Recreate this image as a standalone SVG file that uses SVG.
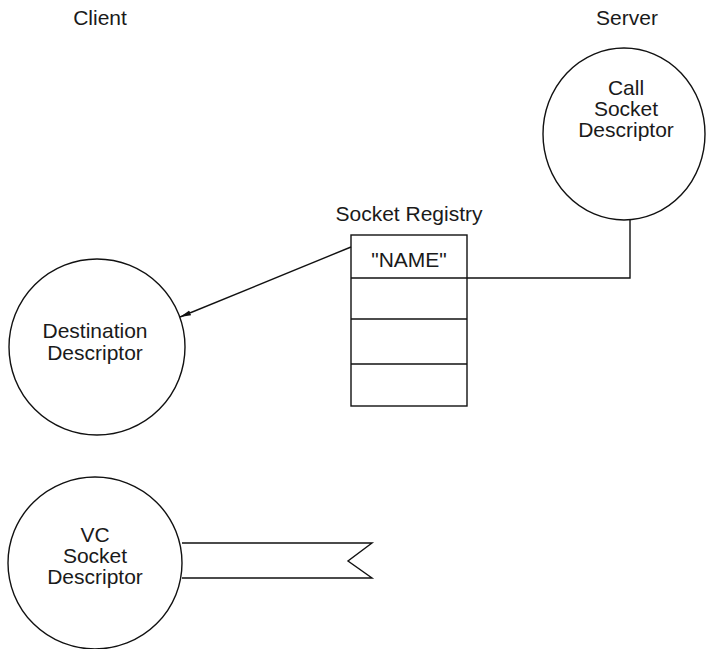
<svg xmlns="http://www.w3.org/2000/svg" width="707" height="649" viewBox="0 0 707 649">
<style>
text{font-family:"Liberation Sans",Arial,sans-serif;font-size:21px;fill:#1a1a1a;text-anchor:middle}
.s{fill:#fff;stroke:#111;stroke-width:1.4}
.c{fill:none;stroke:#111;stroke-width:1.4}
</style>
<defs>
<marker id="ah" markerWidth="12" markerHeight="8" refX="11" refY="4" orient="auto" markerUnits="userSpaceOnUse">
<path d="M0,1.5 L11,4 L0,6.5 z" fill="#111"/>
</marker>
</defs>
<text x="100" y="25">Client</text>
<text x="627" y="25">Server</text>
<g id="call-socket">
<ellipse class="s" cx="624" cy="134" rx="81" ry="86"/>
<text x="626" y="95">Call</text>
<text x="626" y="116">Socket</text>
<text x="626" y="137">Descriptor</text>
</g>
<g id="registry">
<text x="409" y="221">Socket Registry</text>
<rect class="s" x="351" y="235" width="116" height="171"/>
<line class="c" x1="351" y1="278" x2="467" y2="278"/>
<line class="c" x1="351" y1="319" x2="467" y2="319"/>
<line class="c" x1="351" y1="364" x2="467" y2="364"/>
<text x="409" y="267">"NAME"</text>
</g>
<g id="destination">
<ellipse class="s" cx="97" cy="347" rx="88" ry="88"/>
<text x="95" y="338">Destination</text>
<text x="95" y="360">Descriptor</text>
</g>
<g id="vc-socket">
<ellipse class="s" cx="95" cy="563" rx="87" ry="86"/>
<text x="95" y="542">VC</text>
<text x="95" y="563">Socket</text>
<text x="95" y="584">Descriptor</text>
<path class="c" d="M182,543 L372,543 L348,561 L372,578 L182,578"/>
</g>
<g id="connectors">
<path class="c" d="M630,220 L630,278 L467,278"/>
<line class="c" x1="351" y1="247" x2="180" y2="317" marker-end="url(#ah)"/>
</g>
</svg>
